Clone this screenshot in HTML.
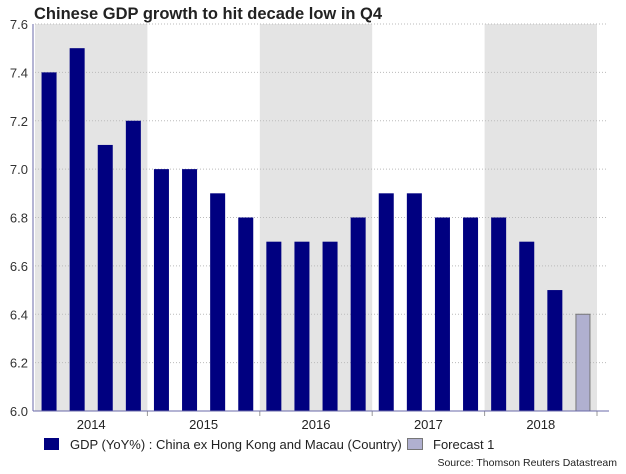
<!DOCTYPE html>
<html><head><meta charset="utf-8"><style>
body{margin:0;background:#fff;width:626px;height:469px;overflow:hidden;font-family:"Liberation Sans",Arial,sans-serif}
</style></head><body>
<svg width="626" height="469" xmlns="http://www.w3.org/2000/svg">
<text x="34" y="19" font-size="16.5" font-weight="bold" fill="#222">Chinese GDP growth to hit decade low in Q4</text>
<g id="bands"></g><g id="grid"></g><g id="bars"></g><g id="axes"></g>
<g>
<rect x="44" y="438" width="15" height="12" fill="#000080"/>
<text x="70" y="449" font-size="13" fill="#222">GDP (YoY%) : China ex Hong Kong and Macau (Country)</text>
<rect x="407.5" y="438.5" width="15" height="11" fill="#b0b0d0" stroke="#777"/>
<text x="433" y="449" font-size="13" fill="#222">Forecast 1</text>
</g>
<text x="617" y="466" font-size="10.5" fill="#222" text-anchor="end">Source: Thomson Reuters Datastream</text>
</svg>
<script>
const years=['2014','2015','2016','2017','2018'];
const gdpValues=[7.4,7.5,7.1,7.2,7.0,7.0,6.9,6.8,6.7,6.7,6.7,6.8,6.9,6.9,6.8,6.8,6.8,6.7,6.5,null];
const forecastValues=[null,null,null,null,null,null,null,null,null,null,null,null,null,null,null,null,null,null,null,6.4];
const yTicks=[6.0,6.2,6.4,6.6,6.8,7.0,7.2,7.4,7.6];
const NS='http://www.w3.org/2000/svg';
const X0=35,X1=597,Y0=411,Y1=24,YMIN=6.0,YMAX=7.6;
const n=gdpValues.length, q=(X1-X0)/n;
const y=v=>Y0-(v-YMIN)/(YMAX-YMIN)*(Y0-Y1);
const x=i=>X0+i*q;
function mk(t,a,p){const e=document.createElementNS(NS,t);for(const k in a)e.setAttribute(k,a[k]);p.appendChild(e);return e;}
const bands=document.getElementById('bands'),grid=document.getElementById('grid'),bars=document.getElementById('bars'),axes=document.getElementById('axes');
years.forEach((yr,i)=>{
 if(i%2===0){const r=mk('rect',{x:x(i*4),y:Y1,width:q*4,height:Y0-Y1,fill:'#e4e4e4'},bands);
 
 }
 const t=mk('text',{x:x(i*4)+q*2,y:Y0+18,'font-size':13,fill:'#222','text-anchor':'middle'},axes);t.textContent=yr;
 
 
 const tk=mk('line',{x1:x(i*4+4),x2:x(i*4+4),y1:Y0,y2:Y0+5,stroke:'#999'},axes);
 
 
});
yTicks.forEach(v=>{
 if(v>YMIN){const g=mk('line',{x1:X0,x2:X1+10,y1:y(v),y2:y(v),stroke:'#bbb','stroke-dasharray':'1,2'},grid);
 
 }
 const t=mk('text',{x:28,y:y(v)+5,'font-size':13,fill:'#333','text-anchor':'end'},axes);t.textContent=v.toFixed(1);
 
 
});
gdpValues.forEach((v,i)=>{if(v==null)return;
 const r=mk('rect',{x:x(i)+q/2-7.5,y:y(v),width:15,height:Y0-y(v),fill:'#000080'},bars);
 
 });
forecastValues.forEach((v,i)=>{if(v==null)return;
 const r=mk('rect',{x:x(i)+q/2-7,y:y(v),width:14,height:Y0-y(v),fill:'#b0b0d0',stroke:'#777'},bars);
 
 });
const ya=mk('line',{x1:33,x2:33,y1:Y1,y2:Y0,stroke:'#6a6aa8'},axes);


const xa=mk('line',{x1:33,x2:609,y1:Y0,y2:Y0,stroke:'#6a6aa8'},axes);


</script>
</body></html>
